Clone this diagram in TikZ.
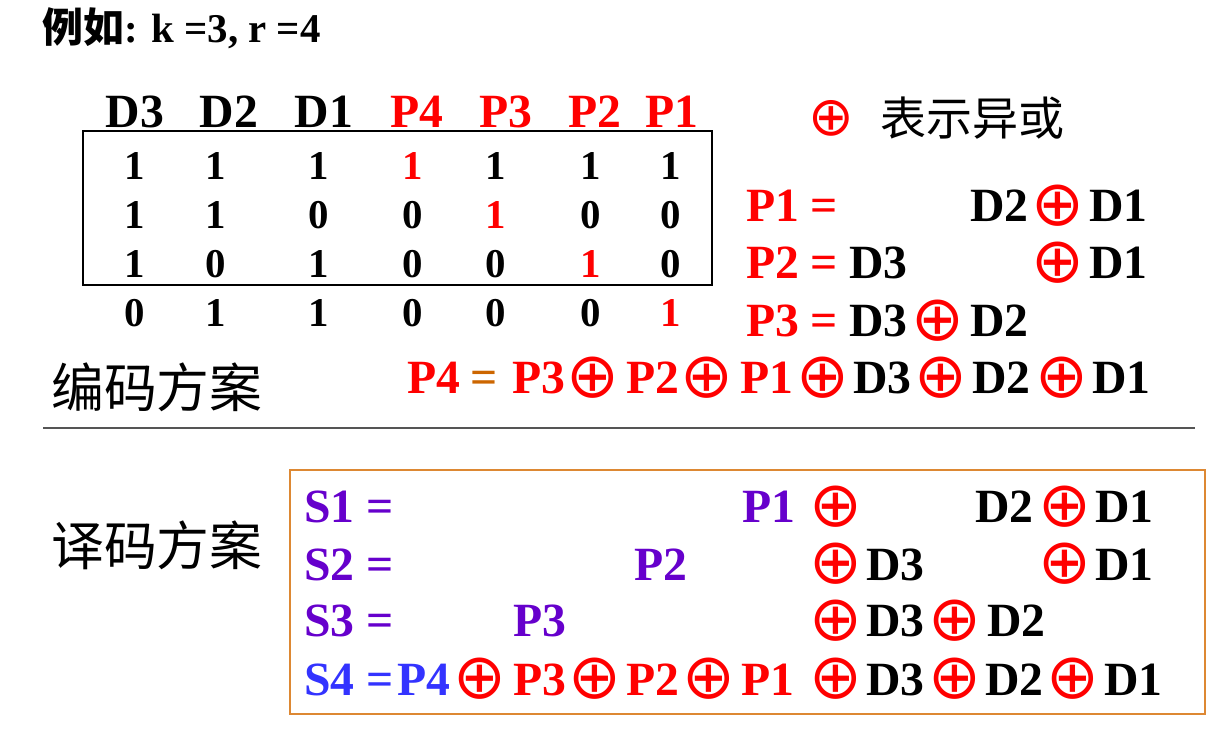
\documentclass[tikz,border=0pt]{standalone}
\usepackage{fontspec}
\setmainfont{Liberation Serif}
\newfontfamily\cjk{Noto Sans CJK SC}
\newfontfamily\xorfont{DejaVu Sans}
\usetikzlibrary{positioning}

\definecolor{xred}{HTML}{FF0000}
\definecolor{spurple}{HTML}{6600CC}
\definecolor{sblue}{HTML}{3333FF}
\definecolor{eqorange}{HTML}{CC6600}
\definecolor{boxorange}{HTML}{DD8833}
\definecolor{rulegray}{HTML}{555555}

\begin{document}
\begin{tikzpicture}[x=0.587pt,y=-0.587pt,
  tok/.style={anchor=base west,inner sep=0pt,font=\fontsize{28}{30}\selectfont\bfseries},
  xo/.style={inner sep=0pt,text=xred,font=\xorfont\fontsize{37}{39}\selectfont},
  bit/.style={anchor=base,inner sep=0pt,font=\fontsize{24}{26}\selectfont\bfseries},
  head/.style={anchor=base,inner sep=0pt,font=\fontsize{28}{30}\selectfont\bfseries},
  scheme/.style={anchor=west,inner sep=0pt,font=\cjk\fontsize{31}{33}\selectfont}]

\useasboundingbox (0,0) rectangle (1227,734);

\node[anchor=base west,inner sep=0pt,font=\fontsize{24}{26}\selectfont\bfseries] (ex) at (42,43) {{\cjk 例如}: k =3, r =4};

% code word table
\foreach \x/\t/\c [count=\i] in {135/D3/black,229/D2/black,324/D1/black,417/P4/xred,506/P3/xred,595/P2/xred,672/P1/xred}
  \node[head,text=\c] (h\i) at (\x,128) {\t};
\draw[line width=0.8pt] (83,131) rectangle (712,285);
\foreach \y/\row/\hot [count=\r] in {180/{1,1,1,1,1,1,1}/4,229/{1,1,0,0,1,0,0}/5,278/{1,0,1,0,0,1,0}/6,327/{0,1,1,0,0,0,1}/7}
  \foreach \b [count=\c] in \row {
    \pgfmathsetmacro\bx{{135,216,319,413,496,591,671}[\c-1]}
    \ifnum\c=\hot \def\bc{xred}\else\def\bc{black}\fi
    \node[bit,text=\bc] (b\r\c) at (\bx,\y) {\b};
  }

% legend
\node[xo,font=\xorfont\fontsize{32}{34}\selectfont] (leg) at (831,118) {⊕};
\node[inner sep=0pt,font=\cjk\fontsize{27}{29}\selectfont,right=15pt of leg] (legt) {表示异或};

% encoding
\foreach \x/\t/\c [count=\i] in {746/P1/xred,810/=/xred,970/D2/black,1089/D1/black}
  \node[tok,text=\c] (pa\i) at (\x,222) {\t};
\node[xo] (pax1) at (1058,206) {⊕};
\foreach \x/\t/\c [count=\i] in {746/P2/xred,810/=/xred,849/D3/black,1089/D1/black}
  \node[tok,text=\c] (pb\i) at (\x,279) {\t};
\node[xo] (pbx1) at (1058,263) {⊕};
\foreach \x/\t/\c [count=\i] in {746/P3/xred,810/=/xred,849/D3/black,970/D2/black}
  \node[tok,text=\c] (pc\i) at (\x,337) {\t};
\node[xo] (pcx1) at (938,321) {⊕};
\foreach \x/\t/\c [count=\i] in {407/P4/xred,470/=/eqorange,512/P3/xred,626/P2/xred,740/P1/xred,853/D3/black,972/D2/black,1092/D1/black}
  \node[tok,text=\c] (pd\i) at (\x,394) {\t};
\foreach \x [count=\i] in {593,707,823,941,1062}
  \node[xo] (pdx\i) at (\x,378) {⊕};

\node[scheme] (enc) at (51,387) {编码方案};
\draw[rulegray,line width=1.2pt] (43,428) -- (1195,428);

% decoding
\node[scheme] (dec) at (51,545) {译码方案};
\draw[boxorange,line width=0.8pt] (290,470) rectangle (1205,714);
\foreach \x/\t/\c [count=\i] in {304/S1 =/spurple,742/P1/spurple,975/D2/black,1095/D1/black}
  \node[tok,text=\c] (sa\i) at (\x,523) {\t};
\foreach \x [count=\i] in {836,1065}
  \node[xo] (sax\i) at (\x,507) {⊕};
\foreach \x/\t/\c [count=\i] in {304/S2 =/spurple,634/P2/spurple,866/D3/black,1095/D1/black}
  \node[tok,text=\c] (sb\i) at (\x,580) {\t};
\foreach \x [count=\i] in {836,1065}
  \node[xo] (sbx\i) at (\x,564) {⊕};
\foreach \x/\t/\c [count=\i] in {304/S3 =/spurple,513/P3/spurple,866/D3/black,987/D2/black}
  \node[tok,text=\c] (sc\i) at (\x,637) {\t};
\foreach \x [count=\i] in {836,955}
  \node[xo] (scx\i) at (\x,621) {⊕};
\foreach \x/\t/\c [count=\i] in {304/S4 =/sblue,397/P4/sblue,513/P3/xred,626/P2/xred,741/P1/xred,866/D3/black,985/D2/black,1104/D1/black}
  \node[tok,text=\c] (sd\i) at (\x,695) {\t};
\foreach \x [count=\i] in {480,595,709,836,955,1073}
  \node[xo] (sdx\i) at (\x,679) {⊕};
\end{tikzpicture}
\end{document}
